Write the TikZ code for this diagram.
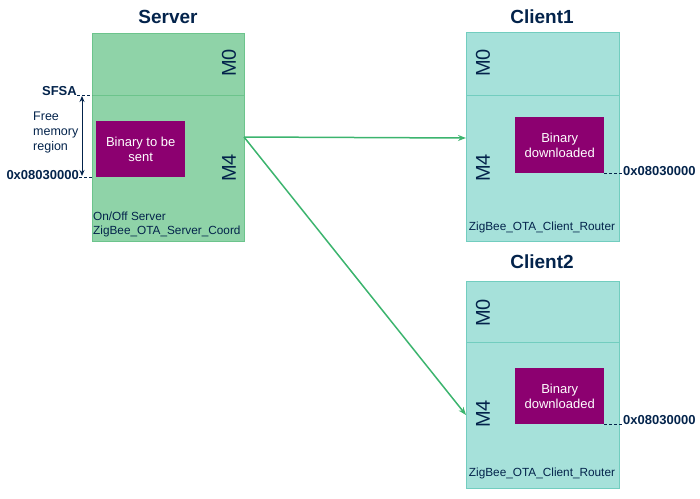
\documentclass[tikz,border=0pt]{standalone}
\usepackage{fontspec}
\setmainfont{Liberation Sans}
\usetikzlibrary{arrows.meta}
\definecolor{navy}{HTML}{03234B}
\definecolor{srvfill}{HTML}{8FD3A8}
\definecolor{srvline}{HTML}{6CC48C}
\definecolor{clifill}{HTML}{A6E1DA}
\definecolor{cliline}{HTML}{72CDBF}
\definecolor{binfill}{HTML}{8C0070}
\definecolor{arrgreen}{HTML}{3CB46E}
\tikzset{
  membox/.style={draw=#1line, fill=#1fill, line width=0.8pt, inner sep=0, anchor=north west},
  binbox/.style={fill=binfill, inner sep=0, anchor=north west, minimum width=89pt, minimum height=56pt},
  bintext/.style={text=white, font=\fontsize{13}{15.5}\selectfont, align=center},
  title/.style={text=navy, font=\fontsize{19}{21}\selectfont\bfseries},
  core/.style={text=navy, font=\fontsize{20}{22}\selectfont, rotate=90},
  small/.style={text=navy, font=\fontsize{11.8}{14}\selectfont, inner sep=0},
  addr/.style={text=navy, font=\fontsize{13}{15}\selectfont\bfseries, inner sep=0},
  dashline/.style={navy, dash pattern=on 3pt off 2pt, line width=0.7pt},
  flow/.style={arrgreen, line width=1.5pt, -{Stealth[length=8pt,width=6pt]}}
}
\begin{document}
\begin{tikzpicture}[x=1pt,y=-1pt]
\useasboundingbox (0,0) rectangle (700,498);
% titles
\node[title] (tsrv) at (168,17) {Server};
\node[title] (tc1) at (542,17) {Client1};
\node[title] (tc2) at (542,262) {Client2};
% server
\node[membox=srv, minimum width=152pt, minimum height=208pt] (srv) at (92,33) {};
\coordinate (sdl) at (92,95); \coordinate (sdr) at (244,95);
\draw[srvline, line width=0.8pt] (sdl) -- (sdr);
\node[core] (sm0) at (229,63) {M0};
\node[core] (sm4) at (229,168) {M4};
\node[binbox] (sbin) at (96,121) {};
\node[bintext] (sbint) at (sbin.center) {Binary to be\\sent};
\node[small, anchor=west] (son) at (93,216) {On/Off Server};
\node[small, anchor=west] (szig) at (93,231) {ZigBee\_OTA\_Server\_Coord};
% left annotations
\node[addr, anchor=east] (sfsa) at (77,91) {SFSA};
\node[addr, anchor=east] (saddr) at (79,175) {0x08030000};
\coordinate (sfsaend) at (92,95);
\coordinate (saddrend) at (92,177);
\draw[dashline] (sfsa.east |- sfsaend) -- (sfsaend);
\draw[dashline] (saddr.east |- saddrend) -- (saddrend);
\coordinate (vtop) at (82,96); \coordinate (vbot) at (82,176);
\draw[navy, line width=0.9pt, {Stealth[length=6pt,width=5pt]}-{Stealth[length=6pt,width=5pt]}] (vtop) -- (vbot);
\node[small, anchor=west, align=left, font=\fontsize{12.5}{15}\selectfont] (free) at (33,132) {Free\\memory\\region};
% client1
\node[membox=cli, minimum width=153pt, minimum height=209pt] (c1) at (466,32) {};
\coordinate (c1dl) at (466,95); \coordinate (c1dr) at (619,95);
\draw[cliline, line width=0.8pt] (c1dl) -- (c1dr);
\node[core] (c1m0) at (483,63) {M0};
\node[core] (c1m4) at (483,168) {M4};
\node[binbox] (c1bin) at (515,117) {};
\node[bintext] (c1bint) at (c1bin.center) {Binary\\downloaded};
\node[small] (c1zig) at (542,227) {ZigBee\_OTA\_Client\_Router};
\node[addr, anchor=west] (c1addr) at (623,171) {0x08030000};
\draw[dashline] (c1bin.south east) -- (c1addr.west |- c1bin.south east);
% client2
\node[membox=cli, minimum width=153pt, minimum height=207pt] (c2) at (466,281) {};
\coordinate (c2dl) at (466,342); \coordinate (c2dr) at (619,342);
\draw[cliline, line width=0.8pt] (c2dl) -- (c2dr);
\node[core] (c2m0) at (483,313) {M0};
\node[core] (c2m4) at (483,414) {M4};
\node[binbox] (c2bin) at (515,368) {};
\node[bintext] (c2bint) at (c2bin.center) {Binary\\downloaded};
\node[small] (c2zig) at (542,473) {ZigBee\_OTA\_Client\_Router};
\node[addr, anchor=west] (c2addr) at (623,420) {0x08030000};
\draw[dashline] (c2bin.south east) -- (c2addr.west |- c2bin.south east);
% flows
\coordinate (src) at (244,137);
\coordinate (dst1) at (466,138);
\coordinate (dst2) at (466,415);
\draw[flow] (src) -- (dst1);
\draw[flow] (src) -- (dst2);
\end{tikzpicture}
\end{document}
